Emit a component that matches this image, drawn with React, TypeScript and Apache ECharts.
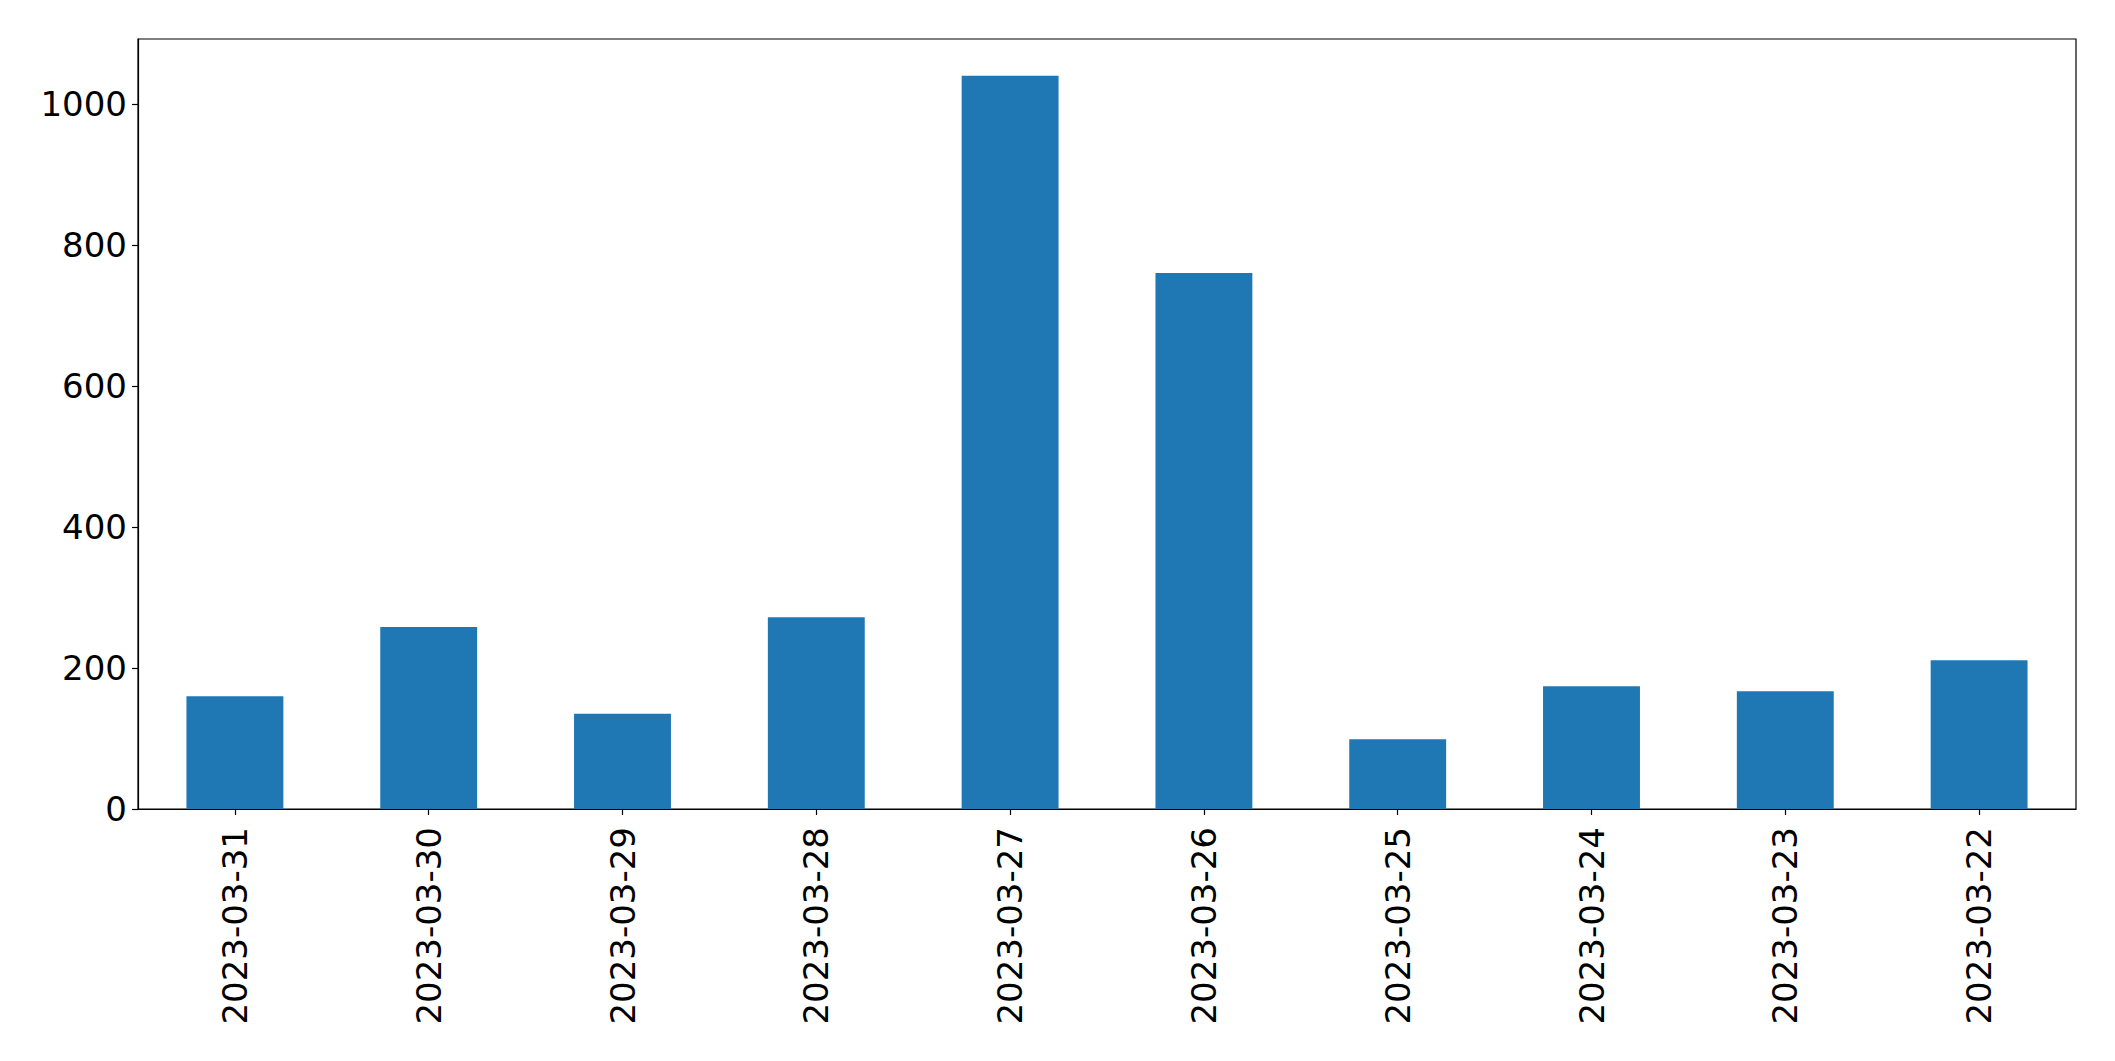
import React, { useEffect, useRef } from "react";
import * as echarts from "echarts";

const categories = [
  "2023-03-31",
  "2023-03-30",
  "2023-03-29",
  "2023-03-28",
  "2023-03-27",
  "2023-03-26",
  "2023-03-25",
  "2023-03-24",
  "2023-03-23",
  "2023-03-22",
];
const values = [160, 258, 135, 272, 1040, 760, 99, 174, 167, 211];
const yTicks = [0, 200, 400, 600, 800, 1000];

export default function App() {
  const ref = useRef<HTMLDivElement>(null);
  useEffect(() => {
    document.body.style.margin = "0";
    if (!ref.current) return;
    const chart = echarts.init(ref.current, undefined, { renderer: "svg" });
    const font = "DejaVu Sans";
    chart.setOption({
      animation: false,
      backgroundColor: "#ffffff",
      grid: {
        left: 138,
        right: 39,
        top: 39,
        bottom: 252,
        show: true,
        borderColor: "#000000",
        borderWidth: 1.2,
        backgroundColor: "transparent",
      },
      xAxis: {
        type: "category",
        data: categories,
        boundaryGap: true,
        axisLine: { show: true, lineStyle: { color: "#000", width: 1.2 } },
        axisTick: { show: true, alignWithLabel: true, length: 6, lineStyle: { color: "#000", width: 1.2 } },
        axisLabel: {
          rotate: 90,
          margin: 18,
          color: "#000",
          fontFamily: font,
          fontSize: 34,
          interval: 0,
        },
        splitLine: { show: false },
      },
      yAxis: {
        type: "value",
        min: 0,
        max: 1092,
        interval: 200,
        axisLine: { show: true, lineStyle: { color: "#000", width: 1.2 } },
        axisTick: { show: true, length: 6, customValues: yTicks, lineStyle: { color: "#000", width: 1.2 } },
        axisLabel: {
          margin: 11,
          color: "#000",
          fontFamily: font,
          fontSize: 34,
          customValues: yTicks,
          formatter: (v: number) => String(v),
        },
        splitLine: { show: false },
      },
      series: [
        {
          type: "bar",
          data: values,
          barWidth: "50%",
          itemStyle: { color: "#1f77b4" },
        },
      ],
    });
    return () => chart.dispose();
  }, []);
  return <div ref={ref} style={{ width: 2115, height: 1061 }} />;
}
